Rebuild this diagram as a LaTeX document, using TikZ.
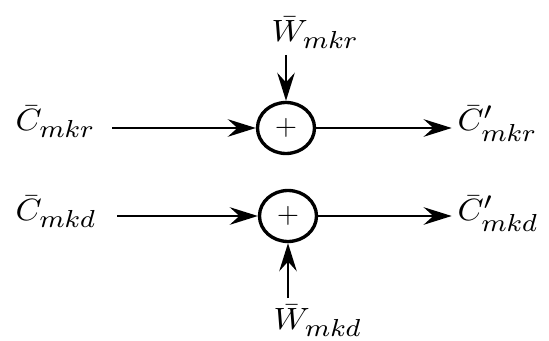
\documentclass[tikz,border=0pt]{standalone}
\usepackage{amsmath}
\usetikzlibrary{positioning,shapes.geometric,arrows.meta}

% larger subscripts, as in the drawing
\DeclareMathSizes{10}{10}{8}{6}

\tikzset{
    sumnode/.style={ellipse, draw, line width=1.9pt, inner sep=0,
        minimum width=1.14cm, minimum height=1.02cm, font=\fontsize{16}{19}\selectfont},
    lbl/.style={inner sep=0, anchor=base west, xscale=1.9, yscale=1.75},
    flow/.style={line width=1.1pt, -{Stealth[length=16pt, width=10pt, inset=5.5pt]}}
}

\begin{document}
\begin{tikzpicture}[x=0.02cm, y=-0.02cm]
    \useasboundingbox (0,0) rectangle (549,341);
    % upper branch
    \node[sumnode] (sumr) at (286,128) {$+$};
    \node[lbl] (cr) at (15,131) {$\bar{C}_{mkr}$};
    \node[lbl] (cpr) at (457,131) {$\bar{C}'_{mkr}$};
    \node[lbl] (wr) at (271,42) {$\bar{W}_{mkr}$};
    \draw[flow, shorten <=0.32cm] (cr.east |- sumr) -- (sumr);
    \draw[flow, shorten >=3pt] (sumr) -- (cpr.west |- sumr);
    \draw[flow] ([yshift=-7.4pt]wr.base -| sumr) -- (sumr);
    % lower branch
    \node[sumnode] (sumd) at (288,216) {$+$};
    \node[lbl] (cd) at (15,221) {$\bar{C}_{mkd}$};
    \node[lbl] (cpd) at (457,221) {$\bar{C}'_{mkd}$};
    \node[lbl] (wd) at (273,330) {$\bar{W}_{mkd}$};
    \draw[flow, shorten <=0.4cm] (cd.east |- sumd) -- (sumd);
    \draw[flow, shorten >=3pt] (sumd) -- (cpd.west |- sumd);
    \draw[flow] ([yshift=18.2pt]wd.base -| sumd) -- (sumd);
\end{tikzpicture}
\end{document}
